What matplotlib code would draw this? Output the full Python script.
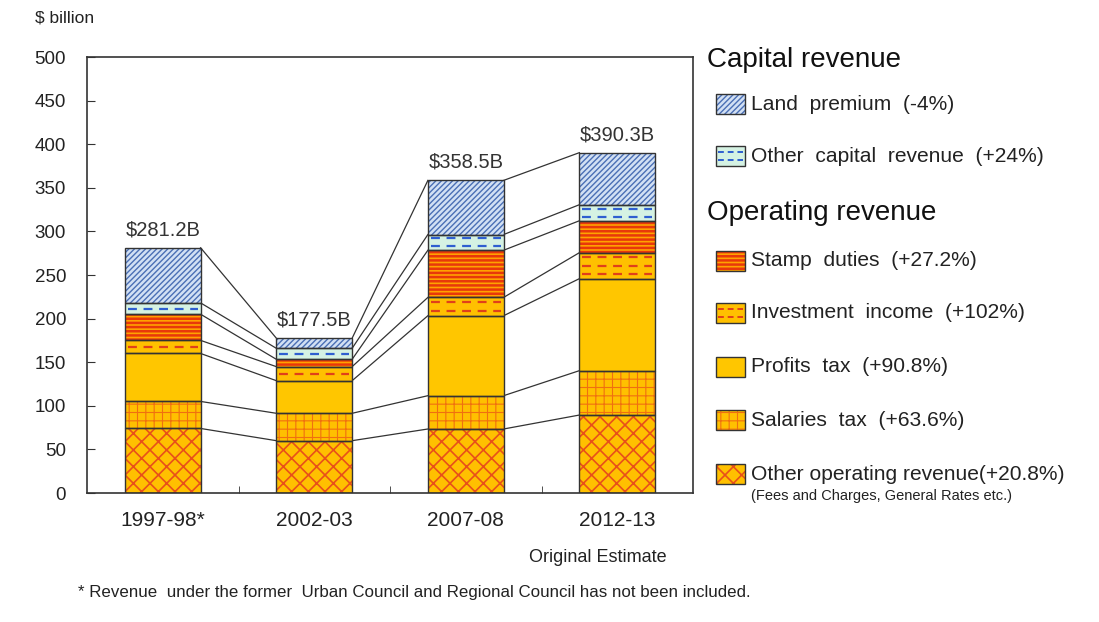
import numpy as np
import matplotlib
matplotlib.use("Agg")
import matplotlib.pyplot as plt
from matplotlib.patches import Rectangle

plt.rcParams['font.family'] = ['Liberation Sans', 'DejaVu Sans']
plt.rcParams['hatch.linewidth'] = 1.0

# data ($ billion), bottom segment first
years = ['1997-98*', '2002-03', '2007-08', '2012-13']
totals = ['$281.2B', '$177.5B', '$358.5B', '$390.3B']
other_operating = [74.0, 60.0, 73.4, 89.4]
salaries_tax = [31.0, 31.4, 38.2, 50.9]
profits_tax = [55.0, 37.4, 91.7, 105.5]
investment_income = [15.0, 16.1, 21.0, 29.8]
stamp_duties = [30.0, 8.4, 54.1, 36.6]
other_capital = [13.0, 12.6, 18.0, 18.4]
land_premium = [63.2, 11.6, 62.1, 59.7]

labels = ['Other operating revenue(+20.8%)', 'Salaries  tax  (+63.6%)',
          'Profits  tax  (+90.8%)', 'Investment  income  (+102%)',
          'Stamp  duties  (+27.2%)', 'Other  capital  revenue  (+24%)',
          'Land  premium  (-4%)']

# style per segment: fill, hatch, hatch colour, dash colour, hatch width
styles = [
    ('#FFC000', 'xx', '#E8501A', None, 1.2),
    ('#FFC000', '++', '#F07010', None, 0.8),
    ('#FFC600', None, None, None, 1.0),
    ('#FFC000', None, None, '#E0401A', 1.0),
    ('#FFA200', '----', '#E8380A', None, 1.8),
    ('#D5F2E3', None, None, '#2F5FD0', 1.0),
    ('#D2E0F4', '//////', '#4A6FB5', None, 1.0),
]
series = [other_operating, salaries_tax, profits_tax, investment_income,
          stamp_duties, other_capital, land_premium]

fig = plt.figure(figsize=(10.99, 6.22), dpi=100)
ax = fig.add_axes([87/1099, 1-493/622, 606/1099, 436/622])

x = np.arange(len(years))
w = 0.5
bottom = np.zeros(len(years))
levels = []
for vals, (fc, hatch, hc, dc, hw) in zip(series, styles):
    vals = np.array(vals)
    with plt.rc_context({'hatch.linewidth': hw}):
        bars = ax.bar(x, vals, w, bottom=bottom, color=fc, hatch=hatch,
                      edgecolor=hc if hc else fc, linewidth=0, zorder=2)
        for b in bars:
            if hasattr(b, 'set_hatch_linewidth'):
                b.set_hatch_linewidth(hw)
    if dc:
        step = 9.0
        for xi, b0, h in zip(x, bottom, vals):
            n = max(1, int(h // step))
            ys = b0 + h / n * (np.arange(n) + 0.5)
            ax.hlines(ys, xi - w/2 + 0.02, xi + w/2 - 0.02, colors=dc,
                      linestyles=(0, (4, 3)), linewidth=1.6, zorder=3)
    ax.bar(x, vals, w, bottom=bottom, fill=False, edgecolor='#333333',
           linewidth=1.0, zorder=4)
    bottom = bottom + vals
    levels.append(bottom.copy())

# connector lines between bars
for lv in levels:
    for i in range(len(years) - 1):
        ax.plot([x[i] + w/2, x[i+1] - w/2], [lv[i], lv[i+1]],
                color='#333333', linewidth=0.9, zorder=1)

for xi, top, txt in zip(x, bottom, totals):
    ax.annotate(txt, (xi, top), xytext=(0, 13), textcoords='offset points',
                ha='center', va='center', fontsize=14.5, color='#333333')

ax.set_xlim(-0.5, 3.5)
ax.set_ylim(0, 500)
ax.set_yticks(np.arange(0, 501, 50))
ax.set_xticks(x)
ax.set_xticklabels(years)
ax.set_xticks(x[:-1] + 0.5, minor=True)
ax.tick_params(axis='y', direction='in', length=6, pad=15, labelsize=13.5,
               labelcolor='#222222', color='#333333')
ax.tick_params(axis='x', which='major', length=0, pad=13, labelsize=15,
               labelcolor='#222222')
ax.tick_params(axis='x', which='minor', direction='in', length=5,
               color='#333333')
for s in ax.spines.values():
    s.set_color('#333333')
    s.set_linewidth(1.2)

# overlay in pixel coordinates for legend and notes
lax = fig.add_axes([0, 0, 1, 1], zorder=-1)
lax.set_xlim(0, 1099)
lax.set_ylim(622, 0)
lax.axis('off')

lax.text(35, 18, '$ billion', fontsize=12.5, color='#222222', va='center')
lax.text(598, 557, 'Original Estimate', fontsize=13, color='#222222',
         ha='center', va='center')
lax.text(78, 593, '* Revenue  under the former  Urban Council and Regional '
         'Council has not been included.', fontsize=12.2, color='#222222',
         va='center')

lax.text(707, 60, 'Capital revenue', fontsize=20, color='#111111',
         va='center')
lax.text(707, 213, 'Operating revenue', fontsize=20, color='#111111',
         va='center')

legend_y = [474, 420, 367, 313, 261, 156, 104]
for lab, (fc, hatch, hc, dc, hw), yc in zip(labels, styles, legend_y):
    with plt.rc_context({'hatch.linewidth': hw}):
        p = Rectangle((716, yc - 10), 29, 20, facecolor=fc, hatch=hatch,
                      edgecolor=hc if hc else fc, linewidth=0)
        if hasattr(p, 'set_hatch_linewidth'):
            p.set_hatch_linewidth(hw)
        lax.add_patch(p)
    if dc:
        for yy in (yc - 4, yc + 4):
            lax.plot([718, 743], [yy, yy], color=dc, linewidth=1.4,
                     linestyle=(0, (3, 2)))
    lax.add_patch(Rectangle((716, yc - 10), 29, 20, fill=False,
                            edgecolor='#333333', linewidth=1.0))
    lax.text(751, yc, lab, fontsize=15.1, color='#222222', va='center')
lax.text(751, 496, '(Fees and Charges, General Rates etc.)', fontsize=10.5,
         color='#222222', va='center')

fig.savefig('out.png', dpi=100)
